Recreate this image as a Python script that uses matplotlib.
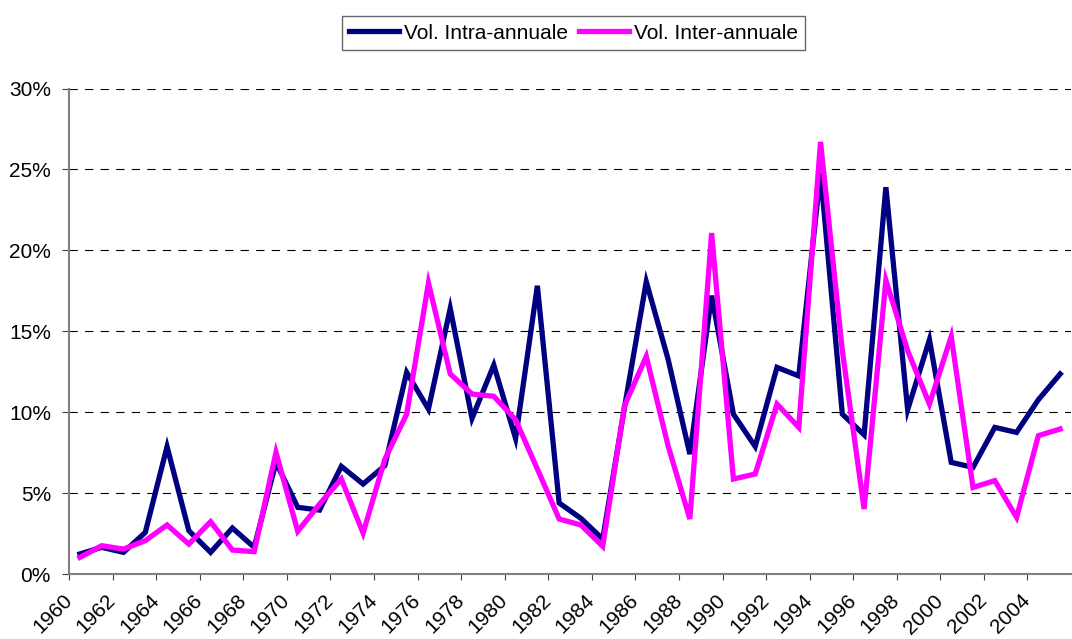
#!/usr/bin/env python3

# plot.py - volatilite intra-annuale vs inter-annuale, 1960-2005

import matplotlib
matplotlib.use("Agg")
import matplotlib.pyplot as plt
from matplotlib.ticker import FuncFormatter

plt.rcParams['font.family'] = ['Liberation Sans', 'DejaVu Sans']

# Data (in %)
years = list(range(1960, 2006))

vol_intra = [1.24, 1.65, 1.34, 2.57, 7.87, 2.68, 1.34, 2.84, 1.65, 6.9,
             4.12, 3.95, 6.65, 5.56, 6.7, 12.46, 10.19, 16.41, 9.62, 12.91,
             8.38, 17.81, 4.39, 3.44, 2.16, 10.3, 18.06, 13.28, 7.41, 17.2,
             9.88, 7.88, 12.77, 12.24, 24.8, 9.88, 8.6, 23.9, 10.15, 14.48,
             6.9, 6.59, 9.06, 8.75, 10.77, 12.36]

vol_inter = [1.03, 1.75, 1.54, 2.06, 3.03, 1.85, 3.23, 1.48, 1.38, 7.52,
             2.64, 4.32, 5.87, 2.53, 7.1, 9.88, 17.98, 12.36, 11.12, 10.98,
             9.53, 6.49, 3.4, 3.03, 1.71, 10.4, 13.45, 7.93, 3.4, 21.07,
             5.87, 6.18, 10.5, 9.06, 26.7, 13.8, 4.02, 18.15, 13.8, 10.5,
             14.68, 5.35, 5.77, 3.5, 8.55, 8.96]

series_names = ["Vol. Intra-annuale", "Vol. Inter-annuale"]
series_colors = ["#000080", "#FF00FF"]

y_ticks = [0, 5, 10, 15, 20, 25, 30]

fig = plt.figure(figsize=(10.72, 6.39), dpi=100)
ax = fig.add_axes([0.0644, 0.1017, 0.9347, 0.7598])

x = list(range(len(years)))
ax.plot(x, vol_intra, color=series_colors[0], lw=3.8, label=series_names[0],
        solid_joinstyle='miter', zorder=3)
ax.plot(x, vol_inter, color=series_colors[1], lw=3.8, label=series_names[1],
        solid_joinstyle='miter', zorder=4)

ax.set_xlim(-0.5, len(years) - 0.5)
ax.set_ylim(0, 30)

# gridlines
for yv in y_ticks[1:]:
    ax.axhline(yv, color='black', lw=0.8, linestyle=(0, (7.5, 6.5)), zorder=1)

ax.set_yticks(y_ticks)
ax.yaxis.set_major_formatter(FuncFormatter(lambda v, p: "{:d}%".format(int(v))))

# category axis: ticks on boundaries every 2 years
xt = [i - 0.5 for i in range(0, len(years) - 1, 2)]
ax.set_xticks(xt)
ax.set_xticklabels([str(years[i]) for i in range(0, len(years) - 1, 2)],
                   rotation=45, ha='right', va='center', rotation_mode='anchor')

for side in ['top', 'right']:
    ax.spines[side].set_visible(False)
for side in ['left', 'bottom']:
    ax.spines[side].set_color('#808080')
    ax.spines[side].set_linewidth(1.5)

ax.tick_params(axis='y', direction='out', length=5, width=0.8, color='#404040',
               labelsize=15, pad=8)
ax.tick_params(axis='x', direction='out', length=4, width=0.8, color='#404040',
               labelsize=15, pad=13)

leg = fig.legend(loc='center', bbox_to_anchor=(0.535, 0.948), ncol=2,
                 fontsize=15, frameon=True, fancybox=False, handlelength=2.4,
                 handletextpad=0.25, columnspacing=0.5, borderpad=0.35)
leg.get_frame().set_edgecolor('#404040')
leg.get_frame().set_linewidth(1.0)

fig.savefig("out.png", dpi=100)
